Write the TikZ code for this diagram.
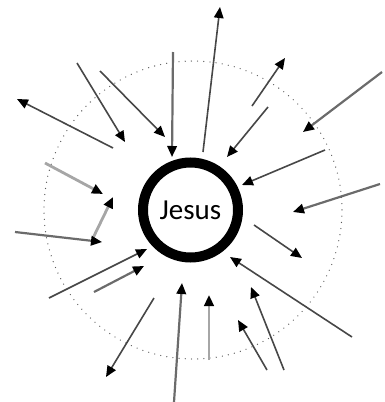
\documentclass[tikz,border=0pt]{standalone}
\usepackage{fontspec}
\setmainfont{Carlito}
\usetikzlibrary{arrows.meta}
\begin{document}
\begin{tikzpicture}[x=1pt,y=-1pt,
  tip/.style={-{Triangle[length=11pt,width=9.5pt,color=black]}},
  arr/.style={draw=black!72, line width=1.6pt, tip},
  hatch/.style={draw=black!58, line width=2.2pt, tip},
  light/.style={draw=black!35, line width=2.8pt, tip},
  ring/.style={circle, draw=black, line width=10pt, minimum size=95pt, inner sep=0pt, font=\fontsize{29}{30}\selectfont}
]
\useasboundingbox (0,0) rectangle (385,402);
\draw[black!65, line width=1.3pt, dash pattern=on 0pt off 6.2pt, line cap=round] (193,210) circle (149);
\node[ring] (J) at (190.5,210) {Jesus};
% coordinates
\coordinate (a1) at (113,148); \coordinate (b1) at (17,99);
\coordinate (a2) at (77,63);   \coordinate (b2) at (125,142);
\coordinate (a3) at (100,71);  \coordinate (b3) at (165,137);
\coordinate (a4) at (173,52);  \coordinate (b4) at (172,157);
\coordinate (a5) at (45,163);  \coordinate (b5) at (103,194);
\coordinate (a6) at (203,152); \coordinate (b6) at (220,7);
\coordinate (a7) at (252,106); \coordinate (b7) at (285,58);
\coordinate (a8) at (268,107); \coordinate (b8) at (227,157);
\coordinate (a9) at (382,72);  \coordinate (b9) at (303,132);
\coordinate (a10) at (325,150); \coordinate (b10) at (242,185);
\coordinate (a11) at (380,184); \coordinate (b11) at (293,212);
\coordinate (a12) at (93,238); \coordinate (b12) at (113,197);
\coordinate (a13) at (15,232); \coordinate (b13) at (102,242);
\coordinate (a14) at (49,298); \coordinate (b14) at (147,249);
\coordinate (a15) at (94,292); \coordinate (b15) at (144,266);
\coordinate (a16) at (154,298); \coordinate (b16) at (106,377);
\coordinate (a17) at (174,402); \coordinate (b17) at (182,283);
\coordinate (a18) at (254,225); \coordinate (b18) at (302,258);
\coordinate (a19) at (352,337); \coordinate (b19) at (230,257);
\coordinate (a20) at (209,360); \coordinate (b20) at (209,295);
\coordinate (a21) at (267,370); \coordinate (b21) at (238,320);
\coordinate (a22) at (284,370); \coordinate (b22) at (251,287);
% arrows
\draw[arr] (a1) -- (b1);
\draw[arr] (a2) -- (b2);
\draw[arr] (a3) -- (b3);
\draw[hatch] (a4) -- (b4);
\draw[light] (a5) -- (b5);
\draw[arr] (a6) -- (b6);
\draw[arr] (a7) -- (b7);
\draw[arr] (a8) -- (b8);
\draw[hatch] (a9) -- (b9);
\draw[arr] (a10) -- (b10);
\draw[hatch] (a11) -- (b11);
\draw[light] (a12) -- (b12);
\draw[hatch] (a13) -- (b13);
\draw[arr] (a14) -- (b14);
\draw[hatch] (a15) -- (b15);
\draw[arr] (a16) -- (b16);
\draw[hatch] (a17) -- (b17);
\draw[arr] (a18) -- (b18);
\draw[arr] (a19) -- (b19);
\draw[light] (a20) -- (b20);
\draw[arr] (a21) -- (b21);
\draw[arr] (a22) -- (b22);
\end{tikzpicture}
\end{document}
